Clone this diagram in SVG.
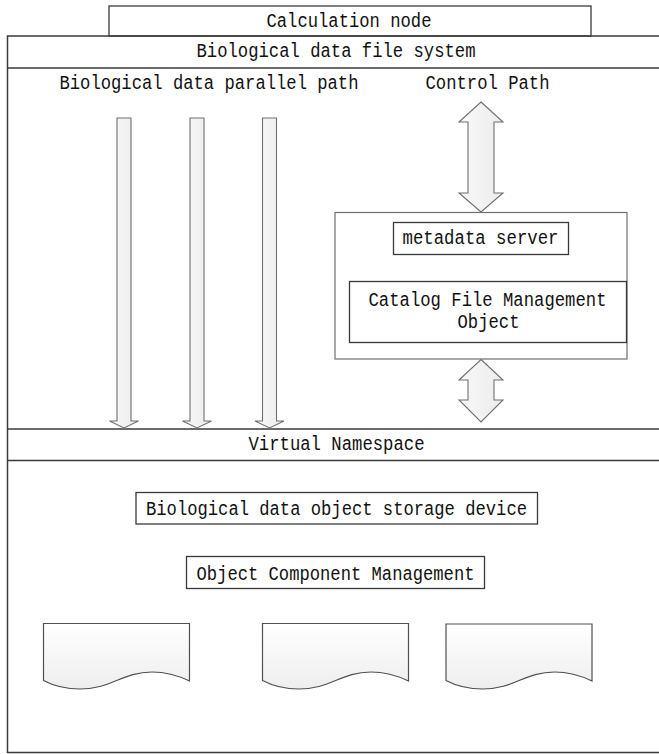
<svg xmlns="http://www.w3.org/2000/svg" width="659" height="754" viewBox="0 0 659 754">
  <defs>
    <linearGradient id="paper" x1="0" y1="0" x2="0" y2="1">
      <stop offset="0" stop-color="#ffffff"/>
      <stop offset="1" stop-color="#eeeeee"/>
    </linearGradient>
    <linearGradient id="pipe" x1="0" y1="0" x2="1" y2="0">
      <stop offset="0" stop-color="#f8f8f8"/>
      <stop offset="1" stop-color="#ececec"/>
    </linearGradient>
  </defs>
  <style>
    .lbl { font-family: "Liberation Mono", "DejaVu Sans Mono", monospace; font-size: 20.5px; fill: #111111; }
    .frame { fill: none; stroke: #3a3a3a; stroke-width: 1.5; }
    .box { fill: #ffffff; stroke: #3a3a3a; stroke-width: 1.3; }
    .panel { fill: #ffffff; stroke: #6e6e6e; stroke-width: 1.2; }
    .doc { fill: url(#paper); stroke: #505050; stroke-width: 1.2; }
    .flow { fill: url(#pipe); stroke: #707070; stroke-width: 1.1; stroke-linejoin: miter; }
  </style>

  <rect width="659" height="754" fill="#ffffff"/>

  <!-- compute node on top -->
  <g id="calc-node">
    <rect class="box" x="109" y="6" width="482" height="30"/>
    <text class="lbl" x="266.5" y="27" textLength="165" lengthAdjust="spacingAndGlyphs">Calculation node</text>
  </g>

  <!-- file system frame with its bands -->
  <g id="file-system">
    <path class="frame" d="M659,36 H7.5 V752.5 H659"/>
    <line class="frame" x1="7.5" y1="68" x2="659" y2="68" stroke-width="2"/>
    <text class="lbl" x="196.5" y="57" textLength="279" lengthAdjust="spacingAndGlyphs">Biological data file system</text>
  </g>

  <g id="parallel-label">
    <text class="lbl" x="59.5" y="89" textLength="299" lengthAdjust="spacingAndGlyphs">Biological data parallel path</text>
  </g>
  <g id="control-label">
    <text class="lbl" x="425.5" y="89" textLength="124" lengthAdjust="spacingAndGlyphs">Control Path</text>
  </g>

  <g id="virtual-namespace">
    <line class="frame" x1="7.5" y1="429" x2="659" y2="429"/>
    <line class="frame" x1="7.5" y1="460.5" x2="659" y2="460.5"/>
    <text class="lbl" x="248.5" y="450" textLength="176" lengthAdjust="spacingAndGlyphs">Virtual Namespace</text>
  </g>

  <!-- metadata side -->
  <g id="metadata-panel">
    <rect class="panel" x="335" y="212.5" width="292" height="146.5"/>
  </g>
  <g id="metadata-server">
    <rect class="box" x="393.5" y="222.5" width="175" height="32"/>
    <text class="lbl" x="402.5" y="244" textLength="156" lengthAdjust="spacingAndGlyphs">metadata server</text>
  </g>
  <g id="catalog-object">
    <rect class="box" x="349.5" y="281.5" width="277" height="61"/>
    <text class="lbl" x="368.5" y="306" textLength="238" lengthAdjust="spacingAndGlyphs">Catalog File Management</text>
    <text class="lbl" x="457.5" y="328" textLength="62" lengthAdjust="spacingAndGlyphs">Object</text>
  </g>

  <!-- storage side -->
  <g id="storage-device">
    <rect class="box" x="136" y="492.5" width="401.5" height="31.5"/>
    <text class="lbl" x="146" y="515" textLength="381" lengthAdjust="spacingAndGlyphs">Biological data object storage device</text>
  </g>
  <g id="component-management">
    <rect class="box" x="186.5" y="556.5" width="298" height="32"/>
    <text class="lbl" x="196.5" y="579.5" textLength="278" lengthAdjust="spacingAndGlyphs">Object Component Management</text>
  </g>

  <g id="object-1">
    <path class="doc" d="M43.5,623.5 H189.5 V681 C177,675 166,672 152,672 C122,672 112,689 80,689 C64,689 54,686 43.5,680.5 Z"/>
  </g>
  <g id="object-2">
    <path class="doc" d="M262.5,623.5 H408.5 V681 C396,675 385,672 371,672 C341,672 331,689 299,689 C283,689 273,686 262.5,680.5 Z"/>
  </g>
  <g id="object-3">
    <path class="doc" d="M446,624 H592 V681 C579.5,675 568.5,672 554.5,672 C524.5,672 514.5,689 482.5,689 C466.5,689 456.5,686 446,680.5 Z"/>
  </g>

  <!-- data and control flows -->
  <g id="connectors">
    <path class="flow" d="M117,118 H131 V421 H138.5 L124,428 L109.5,421 H117 Z"/>
    <path class="flow" d="M190,118 H204 V421 H211.5 L197,428 L182.5,421 H190 Z"/>
    <path class="flow" d="M262.5,118 H276.5 V421 H284 L269.5,428 L255,421 H262.5 Z"/>
    <path class="flow" d="M481,102 L503,122 H494 V193 H503 L481,212 L459,193 H468 V122 H459 Z"/>
    <path class="flow" d="M481,359.5 L503,380 H494 V400 H503 L481,422 L459,400 H468 V380 H459 Z"/>
  </g>
</svg>
